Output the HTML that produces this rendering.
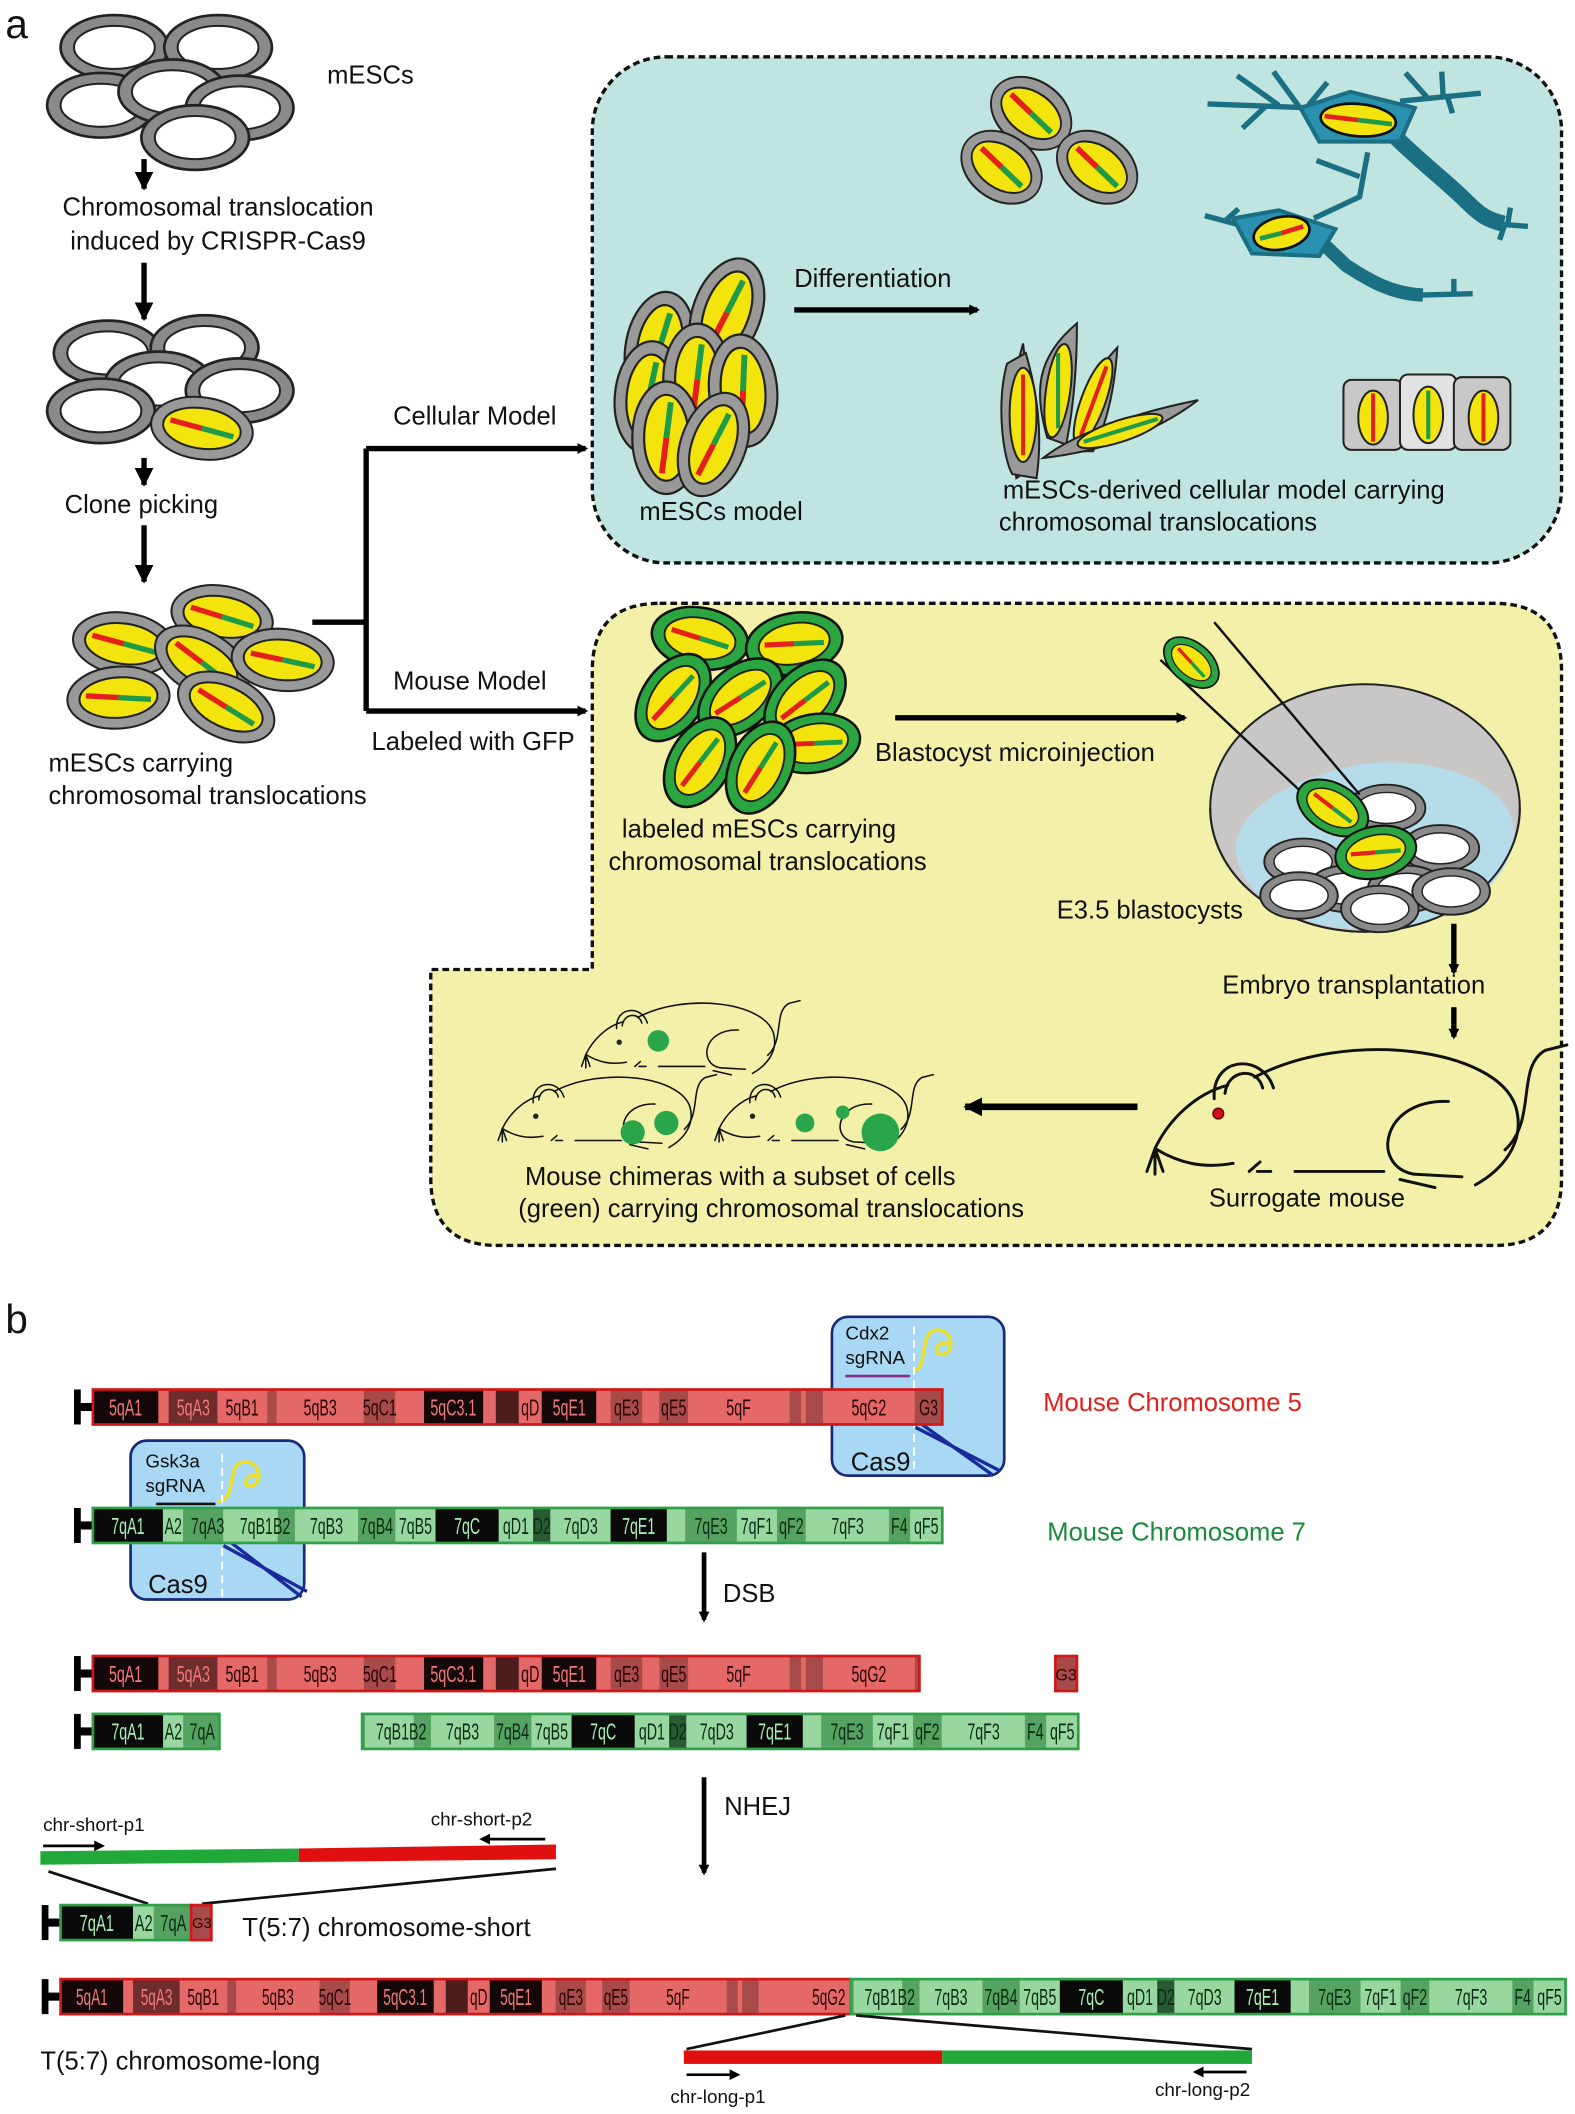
<!DOCTYPE html>
<html><head><meta charset="utf-8"><style>
html,body{margin:0;padding:0;background:#fff}
svg{display:block}
text{font-family:"Liberation Sans",sans-serif;fill:#111}
.t{font-size:19px}
.s{font-size:14px}
.bl{font-size:30px}
.b5 text,.b7 text{font-size:40px;text-anchor:middle;transform-box:fill-box;transform-origin:center;transform:scaleX(0.62)}
.b5 text{fill:#2a0505}
.b5 text.d{fill:#f07a7a}
.b7 text{fill:#0b2c12}
.b7 text.d{fill:#a8f0b4}
</style></head><body>
<svg width="1575" height="2114" viewBox="0 0 1170 1570" xmlns="http://www.w3.org/2000/svg">
<defs>
<marker id="ah" markerWidth="8" markerHeight="8" refX="6" refY="4" orient="auto" markerUnits="userSpaceOnUse"><path d="M0,0 L8,4 L0,8 z" fill="#000"/></marker>
<marker id="ah2" viewBox="0 0 10 10" markerWidth="14" markerHeight="14" refX="9" refY="5" orient="auto" markerUnits="userSpaceOnUse"><path d="M0,0 L10,5 L0,10 z" fill="#000"/></marker>
<g id="cw"><ellipse rx="40" ry="24" fill="#8a8a8a" stroke="#222" stroke-width="2"/><ellipse rx="30" ry="16" fill="#fff" stroke="#222" stroke-width="1.5"/></g>
<g id="cy"><ellipse rx="38" ry="23" fill="#999" stroke="#222" stroke-width="1.5"/><ellipse rx="29" ry="15" fill="#f2e40c" stroke="#222" stroke-width="1.5"/><path d="M-24,-3 L0,0" stroke="#e3201c" stroke-width="4"/><path d="M0,0 L24,3" stroke="#1f9a48" stroke-width="4"/></g>
<g id="cg"><ellipse rx="38" ry="24" fill="#2aa540" stroke="#111" stroke-width="2"/><ellipse rx="28" ry="16" fill="#f2e40c" stroke="#222" stroke-width="1.5"/><path d="M-23,-3 L0,0" stroke="#e3201c" stroke-width="4"/><path d="M0,0 L23,3" stroke="#1f9a48" stroke-width="4"/></g>
<g id="mouse" fill="none" stroke="#111" stroke-width="2.2" stroke-linecap="round">
<path d="M8,83 C18,62 38,42 62,36"/>
<path d="M52,46 C50,14 88,12 96,38"/><path d="M60,42 C62,24 84,22 88,38"/>
<path d="M82,30 C150,-6 262,8 276,52 C284,80 264,100 246,110"/>
<path d="M226,48 C176,46 168,96 200,102 L236,104"/>
<path d="M190,106 L216,112"/>
<path d="M8,83 C26,94 44,98 66,94"/>
<path d="M78,100 L86,93 M84,100 L94,100"/>
<path d="M112,100 L178,100"/>
<path d="M268,84 C292,62 276,22 298,10 L314,6"/>
<path d="M8,83 L2,100 M8,83 L8,102 M8,83 L14,100"/>
</g>
</defs>

<text x="4" y="28" class="bl">a</text>

<use href="#cw" x="85" y="35"/><use href="#cw" x="162" y="35"/><use href="#cw" x="75" y="78"/><use href="#cw" x="128" y="68"/><use href="#cw" x="178" y="80"/><use href="#cw" x="145" y="102"/>
<text x="243" y="62" class="t">mESCs</text>
<line x1="107" y1="118" x2="107" y2="140" stroke="#000" stroke-width="4" marker-end="url(#ah2)"/>
<text x="162" y="160" class="t" text-anchor="middle">Chromosomal translocation</text>
<text x="162" y="185" class="t" text-anchor="middle">induced by CRISPR-Cas9</text>
<line x1="107" y1="195" x2="107" y2="237" stroke="#000" stroke-width="4" marker-end="url(#ah2)"/>
<use href="#cw" x="80" y="262"/><use href="#cw" x="152" y="258"/><use href="#cw" x="118" y="285"/><use href="#cw" x="178" y="290"/><use href="#cw" x="75" y="305"/>
<use href="#cy" transform="translate(150,318) rotate(8)"/>
<line x1="107" y1="340" x2="107" y2="360" stroke="#000" stroke-width="4" marker-end="url(#ah2)"/>
<text x="48" y="381" class="t">Clone picking</text>
<line x1="107" y1="390" x2="107" y2="432" stroke="#000" stroke-width="4" marker-end="url(#ah2)"/>
<use href="#cy" transform="translate(92,478) rotate(8)"/><use href="#cy" transform="translate(165,458) rotate(10)"/><use href="#cy" transform="translate(150,492) rotate(30)"/><use href="#cy" transform="translate(210,490) rotate(5)"/><use href="#cy" transform="translate(88,518) rotate(-4)"/><use href="#cy" transform="translate(168,525) rotate(25)"/>
<text x="36" y="573" class="t">mESCs carrying</text>
<text x="36" y="597" class="t">chromosomal translocations</text>

<path d="M232,462 L272,462 M272,333 L272,528" stroke="#000" stroke-width="4" fill="none"/>
<line x1="272" y1="333" x2="435" y2="333" stroke="#000" stroke-width="4" marker-end="url(#ah)"/>
<line x1="272" y1="528" x2="435" y2="528" stroke="#000" stroke-width="4" marker-end="url(#ah)"/>
<text x="292" y="315" class="t">Cellular Model</text>
<text x="292" y="512" class="t">Mouse Model</text>
<text x="276" y="557" class="t">Labeled with GFP</text>

<rect x="440" y="42" width="720" height="376" rx="55" fill="#c0e4e0" stroke="#111" stroke-width="2.5" stroke-dasharray="5,3"/>
<use href="#cy" transform="translate(490,258) rotate(-80) scale(1.1)"/>
<use href="#cy" transform="translate(540,232) rotate(-70) scale(1.1)"/>
<use href="#cy" transform="translate(482,295) rotate(-85) scale(1.1)"/>
<use href="#cy" transform="translate(518,282) rotate(-90) scale(1.1)"/>
<use href="#cy" transform="translate(552,290) rotate(-95) scale(1.1)"/>
<use href="#cy" transform="translate(495,325) rotate(-90) scale(1.1)"/>
<use href="#cy" transform="translate(530,330) rotate(-70) scale(1.05)"/>
<text x="475" y="386" class="t">mESCs model</text>
<text x="590" y="213" class="t">Differentiation</text>
<line x1="590" y1="230" x2="726" y2="230" stroke="#000" stroke-width="4" marker-end="url(#ah)"/>
<use href="#cy" transform="translate(766,84) rotate(35) scale(0.85,1.05)"/>
<use href="#cy" transform="translate(744,124) rotate(35) scale(0.85,1.05)"/>
<use href="#cy" transform="translate(815,124) rotate(35) scale(0.85,1.05)"/>
<g stroke="#222" stroke-width="1.5">
<path d="M760,255 L770,345 L755,355 L748,300 Z" fill="#999"/>
<path d="M748,270 C740,300 745,340 752,352 L770,355 C775,320 770,290 762,262 Z" fill="#999"/>
<ellipse cx="760" cy="308" rx="10" ry="35" fill="#f2e40c"/><path d="M760,278 L760,338" stroke="#e3201c" stroke-width="3"/>
<path d="M778,325 C768,290 770,265 800,240 C800,270 798,300 792,330 Z" fill="#999"/>
<ellipse cx="786" cy="290" rx="9" ry="35" fill="#f2e40c" transform="rotate(8 786 290)"/><path d="M786,262 L786,318" stroke="#1f9a48" stroke-width="3"/>
<path d="M800,335 C795,300 810,280 830,258 C828,290 822,315 812,335 Z" fill="#999"/>
<ellipse cx="812" cy="298" rx="9" ry="34" fill="#f2e40c" transform="rotate(20 812 298)"/><path d="M803,323 L822,272" stroke="#e3201c" stroke-width="3"/>
<path d="M775,340 C800,320 850,305 890,297 C860,320 820,335 775,340 Z" fill="#999"/>
<ellipse cx="832" cy="320" rx="33" ry="8" fill="#f2e40c" transform="rotate(-18 832 320)"/><path d="M805,328 L860,311" stroke="#1f9a48" stroke-width="3"/>
</g>
<g stroke="#222" stroke-width="1.5">
<rect x="998" y="282" width="44" height="52" rx="6" fill="#c8c8c8"/>
<rect x="1040" y="278" width="42" height="56" rx="6" fill="#e2e2e2"/>
<rect x="1080" y="280" width="42" height="54" rx="6" fill="#c8c8c8"/>
<ellipse cx="1020" cy="310" rx="11" ry="20" fill="#f2e40c"/><path d="M1020,292 L1020,328" stroke="#e3201c" stroke-width="3"/>
<ellipse cx="1061" cy="308" rx="11" ry="21" fill="#f2e40c"/><path d="M1061,290 L1061,326" stroke="#1f9a48" stroke-width="3"/>
<ellipse cx="1102" cy="310" rx="11" ry="20" fill="#f2e40c"/><path d="M1102,292 L1102,328" stroke="#e3201c" stroke-width="3"/>
</g>
<g fill="none" stroke="#1b6f82" stroke-linecap="butt" stroke-linejoin="round">
<path d="M1035,100 C1055,120 1075,135 1090,150 C1100,160 1105,163 1117,166" stroke-width="12"/>
<path d="M1110,166 L1135,168 M1120,166 L1122,154 M1118,166 L1114,178" stroke-width="4"/>
<path d="M975,80 L897,77 M950,78 L919,56 M965,79 L946,53 M972,78 L986,61 M940,79 L923,95" stroke-width="4"/>
<path d="M1040,75 L1100,69 M1060,72 L1044,54 M1072,71 L1071,53 M1075,71 L1079,84" stroke-width="4"/>
<path d="M982,180 L1000,197 C1020,210 1035,218 1057,219" stroke-width="10"/>
<path d="M1055,219 L1094,218 M1080,218 L1080,207" stroke-width="4"/>
<path d="M976,162 L1010,146 L1016,113 M978,119 L1010,131" stroke-width="4"/>
<path d="M925,168 L895,160 M910,164 L920,155" stroke-width="4"/>
</g>
<path d="M966,80 L1003,68 L1051,80 L1040,105 L980,105 Z" fill="#2a92b0" stroke="#1b6f82" stroke-width="3"/>
<ellipse cx="1009" cy="89" rx="28" ry="12" fill="#f2e40c" stroke="#111" stroke-width="2" transform="rotate(5 1009 89)"/>
<path d="M984,86 L1009,89" stroke="#e3201c" stroke-width="3.5"/><path d="M1009,89 L1034,92" stroke="#1f9a48" stroke-width="3.5"/>
<path d="M916,162 L950,156 L992,170 L980,190 L930,188 Z" fill="#2a92b0" stroke="#1b6f82" stroke-width="3"/>
<ellipse cx="952" cy="173" rx="21" ry="12" fill="#f2e40c" stroke="#111" stroke-width="2" transform="rotate(-12 952 173)"/>
<path d="M936,177 L952,173" stroke="#1f9a48" stroke-width="3.5"/><path d="M952,173 L968,168" stroke="#e3201c" stroke-width="3.5"/>
<text x="745" y="370" class="t">mESCs-derived cellular model carrying</text>
<text x="742" y="394" class="t">chromosomal translocations</text>

<path d="M490,448 L1110,448 Q1160,448 1160,498 L1160,875 Q1160,925 1110,925 L370,925 Q320,925 320,875 L320,720 L440,720 L440,498 Q440,448 490,448 Z" fill="#f3f0aa" stroke="#111" stroke-width="2.5" stroke-dasharray="5,3"/>
<use href="#cg" transform="translate(520,474) rotate(10) scale(0.95)"/>
<use href="#cg" transform="translate(590,478) rotate(-10) scale(0.95)"/>
<use href="#cg" transform="translate(500,518) rotate(-55) scale(0.95)"/>
<use href="#cg" transform="translate(550,518) rotate(-40) scale(0.95)"/>
<use href="#cg" transform="translate(598,520) rotate(-45) scale(0.95)"/>
<use href="#cg" transform="translate(605,552) rotate(-10) scale(0.9)"/>
<use href="#cg" transform="translate(520,566) rotate(-60) scale(0.95)"/>
<use href="#cg" transform="translate(565,570) rotate(-65) scale(0.95)"/>
<text x="462" y="622" class="t">labeled mESCs carrying</text>
<text x="452" y="646" class="t">chromosomal translocations</text>
<line x1="665" y1="533" x2="880" y2="533" stroke="#000" stroke-width="4" marker-end="url(#ah)"/>
<text x="650" y="565" class="t">Blastocyst microinjection</text>
<path d="M899,600 A115,92 0 0,1 1129,600 A115,92 0 0,1 899,600 Z" fill="#c9c6c6" stroke="#222" stroke-width="1.5"/>
<path d="M918,630 C920,590 990,567 1030,566 C1090,566 1125,590 1125,620 C1120,665 1070,690 1015,690 C960,690 920,665 918,630 Z" fill="#b5dce8"/>
<path d="M899,600 A115,92 0 0,0 1129,600" fill="none" stroke="#222" stroke-width="1.5"/>
<use href="#cw" transform="translate(1030,600) scale(0.72)"/>
<use href="#cw" transform="translate(1070,630) scale(0.72)"/>
<use href="#cw" transform="translate(968,640) scale(0.72)"/>
<use href="#cw" transform="translate(1000,660) scale(0.72)"/>
<use href="#cw" transform="translate(1045,660) scale(0.72)"/>
<use href="#cw" transform="translate(965,665) scale(0.72)"/>
<use href="#cw" transform="translate(1025,675) scale(0.72)"/>
<use href="#cw" transform="translate(1078,662) scale(0.72)"/>
<path d="M862,490 L990,610 M902,462 L1010,590" stroke="#111" stroke-width="1.8"/>
<use href="#cg" transform="translate(990,600) rotate(30) scale(0.75)"/>
<use href="#cg" transform="translate(1022,633) rotate(-12) scale(0.8)"/>
<use href="#cg" transform="translate(885,492) rotate(40) scale(0.62)"/>
<text x="785" y="682" class="t">E3.5 blastocysts</text>
<line x1="1080" y1="686" x2="1080" y2="722" stroke="#000" stroke-width="4" marker-end="url(#ah)"/>
<text x="908" y="738" class="t">Embryo transplantation</text>
<line x1="1080" y1="748" x2="1080" y2="770" stroke="#000" stroke-width="4" marker-end="url(#ah)"/>
<use href="#mouse" transform="translate(850,770)"/>
<circle cx="905" cy="827" r="4" fill="#d0101a" stroke="#600" stroke-width="1"/>
<text x="898" y="896" class="t">Surrogate mouse</text>
<line x1="845" y1="822" x2="717" y2="822" stroke="#000" stroke-width="5" marker-end="url(#ah2)"/>
<use href="#mouse" transform="translate(431,740) scale(0.52)"/>
<use href="#mouse" transform="translate(369,795) scale(0.52)"/>
<use href="#mouse" transform="translate(530,795) scale(0.52)"/>
<g fill="#2aa54a"><circle cx="489" cy="773" r="8"/><circle cx="495" cy="834" r="9"/><circle cx="470" cy="841" r="9"/><circle cx="598" cy="834" r="7"/><circle cx="626" cy="826" r="5"/><circle cx="654" cy="841" r="14"/></g>
<g fill="#222"><circle cx="460" cy="774" r="2"/><circle cx="398" cy="829" r="2"/><circle cx="559" cy="829" r="2"/></g>
<text x="390" y="880" class="t">Mouse chimeras with a subset of cells</text>
<text x="385" y="904" class="t">(green)  carrying chromosomal translocations</text>

<text x="4" y="990" class="bl">b</text>
<rect x="618" y="978" width="128" height="118" rx="12" fill="#a8d8f4" stroke="#1a2a7a" stroke-width="2"/>
<text x="628" y="995" class="s">Cdx2</text><text x="628" y="1013" class="s">sgRNA</text>
<line x1="628" y1="1022" x2="676" y2="1022" stroke="#8a2a8a" stroke-width="2"/>
<path d="M678,1018 C690,1018 682,990 695,988 C708,986 710,1005 700,1006 C693,1006 695,995 705,998" fill="none" stroke="#f0e020" stroke-width="2.5"/>
<line x1="679" y1="985" x2="679" y2="1095" stroke="#fff" stroke-width="1.5" stroke-dasharray="6,4"/>
<path d="M680,1060 L742,1092 M685,1058 L738,1096" stroke="#1a2a9a" stroke-width="2.5"/>
<text x="632" y="1092" class="t">Cas9</text>
<rect x="97" y="1070" width="129" height="118" rx="12" fill="#a8d8f4" stroke="#1a2a7a" stroke-width="2"/>
<text x="108" y="1090" class="s">Gsk3a</text><text x="108" y="1108" class="s">sgRNA</text>
<line x1="116" y1="1117" x2="160" y2="1117" stroke="#111" stroke-width="2"/>
<path d="M162,1115 C176,1115 168,1088 180,1086 C194,1084 196,1102 186,1104 C180,1104 182,1094 192,1096" fill="none" stroke="#f0e020" stroke-width="2.5"/>
<line x1="165" y1="1080" x2="165" y2="1186" stroke="#fff" stroke-width="1.5" stroke-dasharray="6,4"/>
<path d="M166,1148 L228,1182 M172,1146 L224,1186" stroke="#1a2a9a" stroke-width="2.5"/>
<text x="110" y="1183" class="t">Cas9</text>

<rect x="55" y="1032" width="5" height="26" fill="#000"/><rect x="58" y="1042" width="12" height="6" fill="#000"/>
<svg x="69" y="1032" width="631" height="26" viewBox="0 0 1480 61" preserveAspectRatio="none" class="b5">
<rect x="0" y="0" width="1480" height="61" fill="#e46868"/>
<rect x="0" width="114" height="61" fill="#140808"/><rect x="132" width="85" height="61" fill="#6e2c2c"/><rect x="304" width="16" height="61" fill="#a84a4a"/><rect x="472" width="55" height="61" fill="#a84a4a"/><rect x="577" width="103" height="61" fill="#140808"/><rect x="702" width="40" height="61" fill="#4d1c1c"/><rect x="782" width="95" height="61" fill="#140808"/><rect x="902" width="55" height="61" fill="#a84a4a"/><rect x="987" width="50" height="61" fill="#a84a4a"/><rect x="1214" width="20" height="61" fill="#a84a4a"/><rect x="1242" width="30" height="61" fill="#a84a4a"/><rect x="1432" width="48" height="61" fill="#a84a4a"/>
<text x="57" y="45" class="d">5qA1</text><text x="175" y="45" class="d">5qA3</text><text x="260" y="45">5qB1</text><text x="396" y="45">5qB3</text><text x="500" y="45">5qC1</text><text x="628" y="45" class="d">5qC3.1</text><text x="762" y="45">qD</text><text x="830" y="45" class="d">5qE1</text><text x="930" y="45">qE3</text><text x="1012" y="45">qE5</text><text x="1125" y="45">5qF</text><text x="1352" y="45">5qG2</text><text x="1456" y="45">G3</text>
</svg>
<rect x="69" y="1032" width="631" height="26" fill="none" stroke="#d01818" stroke-width="2"/>
<text x="775" y="1048" class="t" style="fill:#e0201a">Mouse  Chromosome 5</text>

<rect x="55" y="1120" width="5" height="26" fill="#000"/><rect x="58" y="1130" width="12" height="6" fill="#000"/>
<svg x="69" y="1120" width="631" height="26" viewBox="0 0 1480 61" preserveAspectRatio="none" class="b7">
<rect width="1480" height="61" fill="#98d8a0"/>
<rect x="0" width="122" height="61" fill="#0a0a0a"/><rect x="157" width="70" height="61" fill="#56a262"/><rect x="322" width="30" height="61" fill="#56a262"/><rect x="462" width="65" height="61" fill="#56a262"/><rect x="597" width="110" height="61" fill="#0a0a0a"/><rect x="767" width="30" height="61" fill="#2a5a34"/><rect x="902" width="98" height="61" fill="#0a0a0a"/><rect x="1032" width="90" height="61" fill="#56a262"/><rect x="1192" width="50" height="61" fill="#56a262"/><rect x="1387" width="37" height="61" fill="#56a262"/>
<text x="61" y="45" class="d">7qA1</text><text x="140" y="45">A2</text><text x="200" y="45">7qA3</text><text x="300" y="45">7qB1B2</text><text x="407" y="45">7qB3</text><text x="494" y="45">7qB4</text><text x="562" y="45">7qB5</text><text x="652" y="45" class="d">7qC</text><text x="737" y="45">qD1</text><text x="782" y="45">D2</text><text x="850" y="45">7qD3</text><text x="951" y="45" class="d">7qE1</text><text x="1077" y="45">7qE3</text><text x="1157" y="45">7qF1</text><text x="1217" y="45">qF2</text><text x="1315" y="45">7qF3</text><text x="1405" y="45">F4</text><text x="1452" y="45">qF5</text>
</svg>
<rect x="69" y="1120" width="631" height="26" fill="none" stroke="#30a048" stroke-width="2"/>
<text x="778" y="1144" class="t" style="fill:#1a8a3a">Mouse  Chromosome 7</text>

<line x1="523" y1="1153" x2="523" y2="1203" stroke="#000" stroke-width="3.5" marker-end="url(#ah)"/>
<text x="537" y="1190" class="t">DSB</text>

<rect x="55" y="1230" width="5" height="26" fill="#000"/><rect x="58" y="1240" width="12" height="6" fill="#000"/>
<svg x="69" y="1230" width="614" height="26" viewBox="0 0 1440 61" preserveAspectRatio="none" class="b5">
<rect x="0" y="0" width="1480" height="61" fill="#e46868"/>
<rect x="0" width="114" height="61" fill="#140808"/><rect x="132" width="85" height="61" fill="#6e2c2c"/><rect x="304" width="16" height="61" fill="#a84a4a"/><rect x="472" width="55" height="61" fill="#a84a4a"/><rect x="577" width="103" height="61" fill="#140808"/><rect x="702" width="40" height="61" fill="#4d1c1c"/><rect x="782" width="95" height="61" fill="#140808"/><rect x="902" width="55" height="61" fill="#a84a4a"/><rect x="987" width="50" height="61" fill="#a84a4a"/><rect x="1214" width="20" height="61" fill="#a84a4a"/><rect x="1242" width="30" height="61" fill="#a84a4a"/><rect x="1432" width="48" height="61" fill="#a84a4a"/>
<text x="57" y="45" class="d">5qA1</text><text x="175" y="45" class="d">5qA3</text><text x="260" y="45">5qB1</text><text x="396" y="45">5qB3</text><text x="500" y="45">5qC1</text><text x="628" y="45" class="d">5qC3.1</text><text x="762" y="45">qD</text><text x="830" y="45" class="d">5qE1</text><text x="930" y="45">qE3</text><text x="1012" y="45">qE5</text><text x="1125" y="45">5qF</text><text x="1352" y="45">5qG2</text>
</svg>
<rect x="69" y="1230" width="614" height="26" fill="none" stroke="#d01818" stroke-width="2"/>
<rect x="784" y="1230" width="16" height="26" fill="#a84a4a" stroke="#d01818" stroke-width="2"/>
<text x="792" y="1248" font-size="12" text-anchor="middle" style="fill:#2a0505">G3</text>

<rect x="55" y="1273" width="5" height="26" fill="#000"/><rect x="58" y="1283" width="12" height="6" fill="#000"/>
<svg x="69" y="1273" width="94" height="26" viewBox="0 0 220 61" preserveAspectRatio="none" class="b7">
<rect width="1480" height="61" fill="#98d8a0"/><rect x="0" width="122" height="61" fill="#0a0a0a"/><rect x="157" width="70" height="61" fill="#56a262"/>
<text x="61" y="45" class="d">7qA1</text><text x="140" y="45">A2</text><text x="190" y="45">7qA</text>
</svg>
<rect x="69" y="1273" width="94" height="26" fill="none" stroke="#30a048" stroke-width="2"/>
<svg x="269" y="1273" width="532" height="26" viewBox="232 0 1248 61" preserveAspectRatio="none" class="b7">
<rect width="1480" height="61" fill="#98d8a0"/>
<rect x="157" width="80" height="61" fill="#56a262"/><rect x="322" width="30" height="61" fill="#56a262"/><rect x="462" width="65" height="61" fill="#56a262"/><rect x="597" width="110" height="61" fill="#0a0a0a"/><rect x="767" width="30" height="61" fill="#2a5a34"/><rect x="902" width="98" height="61" fill="#0a0a0a"/><rect x="1032" width="90" height="61" fill="#56a262"/><rect x="1192" width="50" height="61" fill="#56a262"/><rect x="1387" width="37" height="61" fill="#56a262"/>
<text x="300" y="45">7qB1B2</text><text x="407" y="45">7qB3</text><text x="494" y="45">7qB4</text><text x="562" y="45">7qB5</text><text x="652" y="45" class="d">7qC</text><text x="737" y="45">qD1</text><text x="782" y="45">D2</text><text x="850" y="45">7qD3</text><text x="951" y="45" class="d">7qE1</text><text x="1077" y="45">7qE3</text><text x="1157" y="45">7qF1</text><text x="1217" y="45">qF2</text><text x="1315" y="45">7qF3</text><text x="1405" y="45">F4</text><text x="1452" y="45">qF5</text>
</svg>
<rect x="269" y="1273" width="532" height="26" fill="none" stroke="#30a048" stroke-width="2"/>

<line x1="523" y1="1320" x2="523" y2="1391" stroke="#000" stroke-width="3.5" marker-end="url(#ah)"/>
<text x="538" y="1348" class="t">NHEJ</text>

<text x="32" y="1360" class="s">chr-short-p1</text>
<line x1="32" y1="1371" x2="76" y2="1371" stroke="#000" stroke-width="2" marker-end="url(#ah)"/>
<text x="320" y="1356" class="s">chr-short-p2</text>
<line x1="405" y1="1366" x2="358" y2="1366" stroke="#000" stroke-width="2" marker-end="url(#ah)"/>
<path d="M30,1375 L222,1373 L222,1383 L30,1385 Z" fill="#20a838"/>
<path d="M222,1373 L413,1370 L413,1381 L222,1383 Z" fill="#e01010"/>
<path d="M36,1390 L110,1414 M413,1388 L150,1414" stroke="#111" stroke-width="2"/>
<rect x="31" y="1415" width="5" height="26" fill="#000"/><rect x="34" y="1425" width="12" height="6" fill="#000"/>
<svg x="45" y="1415" width="97" height="26" viewBox="0 0 220 61" preserveAspectRatio="none" class="b7">
<rect width="1480" height="61" fill="#98d8a0"/><rect x="0" width="122" height="61" fill="#0a0a0a"/><rect x="157" width="70" height="61" fill="#56a262"/>
<text x="61" y="45" class="d">7qA1</text><text x="140" y="45">A2</text><text x="190" y="45">7qA</text>
</svg>
<rect x="45" y="1415" width="97" height="26" fill="none" stroke="#30a048" stroke-width="2"/>
<rect x="142" y="1415" width="15" height="26" fill="#a84a4a" stroke="#d01818" stroke-width="2"/>
<text x="150" y="1432" font-size="11" text-anchor="middle" style="fill:#2a0505">G3</text>
<text x="180" y="1438" class="t">T(5:7) chromosome-short</text>

<rect x="31" y="1470" width="5" height="26" fill="#000"/><rect x="34" y="1480" width="12" height="6" fill="#000"/>
<svg x="45" y="1470" width="587" height="26" viewBox="0 0 1440 61" preserveAspectRatio="none" class="b5">
<rect x="0" y="0" width="1480" height="61" fill="#e46868"/>
<rect x="0" width="114" height="61" fill="#140808"/><rect x="132" width="85" height="61" fill="#6e2c2c"/><rect x="304" width="16" height="61" fill="#a84a4a"/><rect x="472" width="55" height="61" fill="#a84a4a"/><rect x="577" width="103" height="61" fill="#140808"/><rect x="702" width="40" height="61" fill="#4d1c1c"/><rect x="782" width="95" height="61" fill="#140808"/><rect x="902" width="55" height="61" fill="#a84a4a"/><rect x="987" width="50" height="61" fill="#a84a4a"/><rect x="1214" width="20" height="61" fill="#a84a4a"/><rect x="1242" width="30" height="61" fill="#a84a4a"/>
<text x="57" y="45" class="d">5qA1</text><text x="175" y="45" class="d">5qA3</text><text x="260" y="45">5qB1</text><text x="396" y="45">5qB3</text><text x="500" y="45">5qC1</text><text x="628" y="45" class="d">5qC3.1</text><text x="762" y="45">qD</text><text x="830" y="45" class="d">5qE1</text><text x="930" y="45">qE3</text><text x="1012" y="45">qE5</text><text x="1125" y="45">5qF</text><text x="1400" y="45">5qG2</text>
</svg>
<rect x="45" y="1470" width="587" height="26" fill="none" stroke="#d01818" stroke-width="2"/>
<svg x="632" y="1470" width="531" height="26" viewBox="232 0 1248 61" preserveAspectRatio="none" class="b7">
<rect width="1480" height="61" fill="#98d8a0"/>
<rect x="157" width="80" height="61" fill="#56a262"/><rect x="322" width="30" height="61" fill="#56a262"/><rect x="462" width="65" height="61" fill="#56a262"/><rect x="597" width="110" height="61" fill="#0a0a0a"/><rect x="767" width="30" height="61" fill="#2a5a34"/><rect x="902" width="98" height="61" fill="#0a0a0a"/><rect x="1032" width="90" height="61" fill="#56a262"/><rect x="1192" width="50" height="61" fill="#56a262"/><rect x="1387" width="37" height="61" fill="#56a262"/>
<text x="300" y="45">7qB1B2</text><text x="407" y="45">7qB3</text><text x="494" y="45">7qB4</text><text x="562" y="45">7qB5</text><text x="652" y="45" class="d">7qC</text><text x="737" y="45">qD1</text><text x="782" y="45">D2</text><text x="850" y="45">7qD3</text><text x="951" y="45" class="d">7qE1</text><text x="1077" y="45">7qE3</text><text x="1157" y="45">7qF1</text><text x="1217" y="45">qF2</text><text x="1315" y="45">7qF3</text><text x="1405" y="45">F4</text><text x="1452" y="45">qF5</text>
</svg>
<rect x="632" y="1470" width="531" height="26" fill="none" stroke="#30a048" stroke-width="2"/>
<text x="30" y="1537" class="t">T(5:7) chromosome-long</text>
<path d="M628,1497 L510,1522 M636,1497 L930,1522" stroke="#111" stroke-width="2"/>
<rect x="508" y="1523" width="192" height="10" fill="#e01010"/>
<rect x="700" y="1523" width="230" height="10" fill="#20a838"/>
<line x1="510" y1="1541" x2="548" y2="1541" stroke="#000" stroke-width="2" marker-end="url(#ah)"/>
<text x="498" y="1562" class="s">chr-long-p1</text>
<line x1="926" y1="1539" x2="888" y2="1539" stroke="#000" stroke-width="2" marker-end="url(#ah)"/>
<text x="858" y="1557" class="s">chr-long-p2</text>
</svg>
</body></html>
